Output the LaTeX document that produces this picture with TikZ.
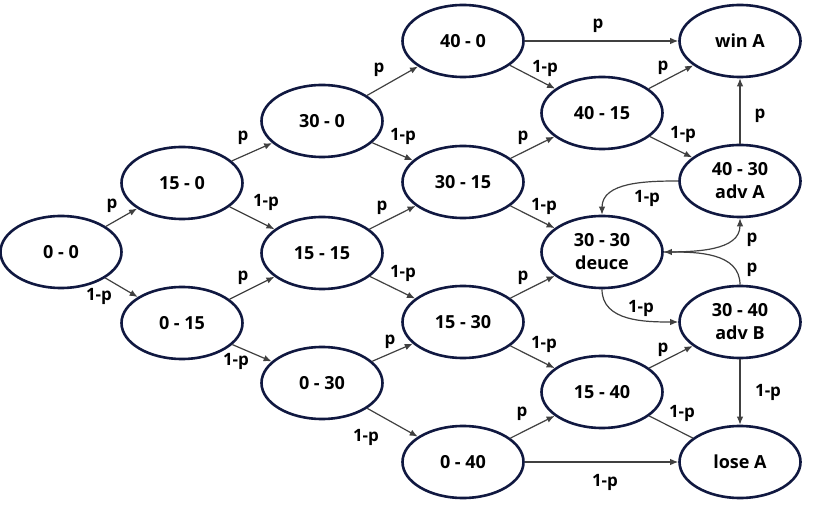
\documentclass[tikz,border=0pt]{standalone}
\usepackage{fontspec}
\setmainfont{Open Sans}
\usetikzlibrary{shapes.geometric,arrows.meta}
\definecolor{navy}{RGB}{16,24,64}
\definecolor{edgegray}{RGB}{64,64,64}
\begin{document}
\begin{tikzpicture}[x=1pt,y=-1pt,
  state/.style={ellipse,draw=navy,line width=2.6pt,minimum width=121pt,minimum height=72pt,inner sep=0pt,align=center,font=\fontsize{18}{23}\selectfont\bfseries,fill=white},
  arr/.style={draw=edgegray,line width=1.2pt,-{Latex[length=8pt,width=6.5pt]}},
  plainedge/.style={draw=edgegray,line width=1.2pt},
  lab/.style={font=\fontsize{17}{19}\selectfont\bfseries,text=black,inner sep=0pt}]
\useasboundingbox (0,0) rectangle (835,510);

% states
\node[state] (s00)  at (61,252)  {0 - 0};
\node[state] (s150) at (182,183) {15 - 0};
\node[state] (s015) at (182,323) {0 - 15};
\node[state] (s300) at (322,121) {30 - 0};
\node[state] (s1515) at (322,253) {15 - 15};
\node[state] (s030) at (322,383) {0 - 30};
\node[state] (s400) at (463,41)  {40 - 0};
\node[state] (s3015) at (463,182) {30 - 15};
\node[state] (s1530) at (463,322) {15 - 30};
\node[state] (s040) at (463,462) {0 - 40};
\node[state] (s4015) at (602,113) {40 - 15};
\node[state] (deuce) at (602,252) {30 - 30\\deuce};
\node[state] (s1540) at (602,392) {15 - 40};
\node[state] (winA) at (740,41)  {win A};
\node[state] (advA) at (740,181) {40 - 30\\adv A};
\node[state] (advB) at (740,322) {30 - 40\\adv B};
\node[state] (loseA) at (740,462) {lose A};

% straight edges
\draw[arr] (s00) -- (s150);
\draw[arr] (s00) -- (s015);
\draw[arr] (s150) -- (s300);
\draw[arr] (s150) -- (s1515);
\draw[arr] (s015) -- (s1515);
\draw[arr] (s015) -- (s030);
\draw[arr] (s300) -- (s400);
\draw[arr] (s300) -- (s3015);
\draw[arr] (s1515) -- (s3015);
\draw[arr] (s1515) -- (s1530);
\draw[arr] (s030) -- (s1530);
\draw[arr] (s030) -- (s040);
\draw[arr] (s400) -- (winA);
\draw[arr] (s400) -- (s4015);
\draw[arr] (s3015) -- (s4015);
\draw[arr] (s3015) -- (deuce);
\draw[arr] (s1530) -- (deuce);
\draw[arr] (s1530) -- (s1540);
\draw[arr] (s040) -- (s1540);
\draw[arr] (s040) -- (loseA);
\draw[arr] (s4015) -- (winA);
\draw[arr] (s4015) -- (advA);
\draw[arr] (s1540) -- (advB);
\draw[plainedge] (s1540) -- (loseA);
\draw[arr] (advA) -- (winA);
\draw[arr] (advB) -- (loseA);

% curved edges
\draw[arr] (advA.west) to[out=180,in=90] (deuce.north);
\draw[arr] (deuce.east) to[out=0,in=-90] (advA.south);
\draw[arr] (advB.north) to[out=90,in=0] (deuce.east);
\draw[arr] (deuce.south) to[out=-90,in=180] (advB.west);

% labels
\node[lab] (l1) at (112,206) {p};
\node[lab] (l2) at (99,296) {1-p};
\node[lab] (l3) at (243,138) {p};
\node[lab] (l4) at (266,202) {1-p};
\node[lab] (l5) at (243,278) {p};
\node[lab] (l6) at (236,361) {1-p};
\node[lab] (l7) at (379,70) {p};
\node[lab] (l8) at (403,136) {1-p};
\node[lab] (l9) at (382,208) {p};
\node[lab] (l10) at (403,273) {1-p};
\node[lab] (l11) at (390,342) {p};
\node[lab] (l12) at (366,437) {1-p};
\node[lab] (l13) at (598,26) {p};
\node[lab] (l14) at (545,68) {1-p};
\node[lab] (l15) at (523,138) {p};
\node[lab] (l16) at (544,206) {1-p};
\node[lab] (l17) at (523,278) {p};
\node[lab] (l18) at (544,344) {1-p};
\node[lab] (l19) at (522,414) {p};
\node[lab] (l20) at (605,482) {1-p};
\node[lab] (l21) at (663,68) {p};
\node[lab] (l22) at (683,134) {1-p};
\node[lab] (l23) at (663,350) {p};
\node[lab] (l24) at (682,413) {1-p};
\node[lab] (l25) at (760,116) {p};
\node[lab] (l26) at (647,198) {1-p};
\node[lab] (l27) at (752,240) {p};
\node[lab] (l28) at (752,270) {p};
\node[lab] (l29) at (641,308) {1-p};
\node[lab] (l30) at (768,392) {1-p};
\end{tikzpicture}
\end{document}
